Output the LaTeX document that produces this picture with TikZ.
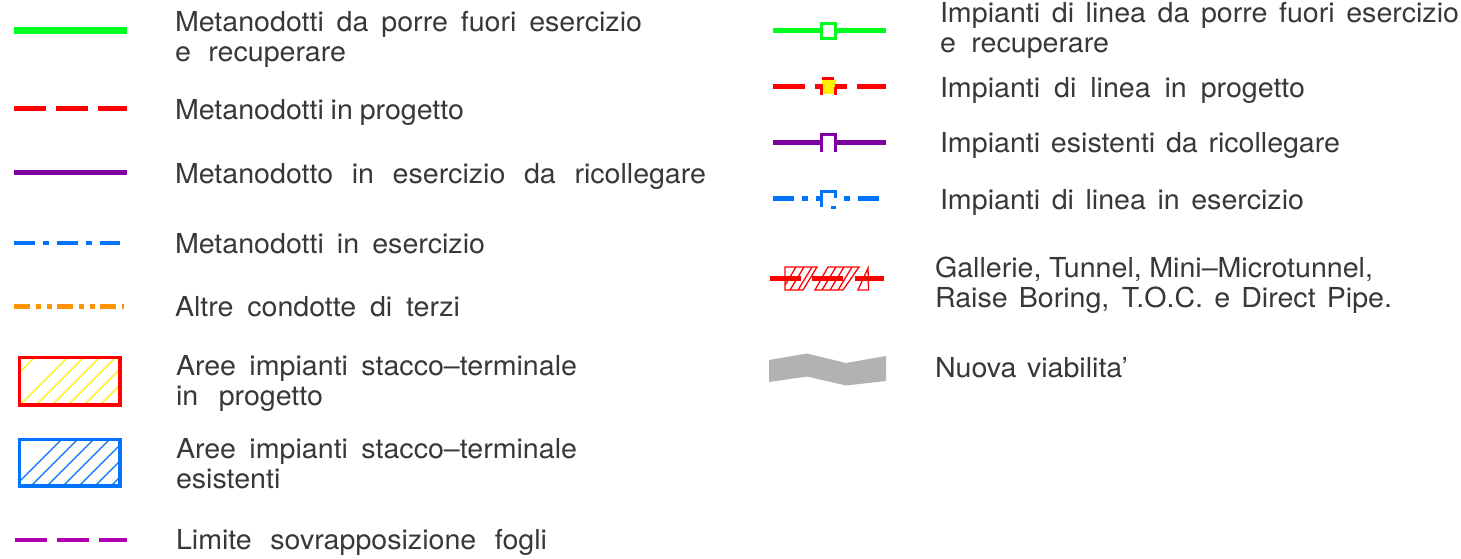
\documentclass[tikz,border=0pt]{standalone}
\usepackage{fontspec}
\setmainfont[FakeStretch=1.04]{TeX Gyre Heros}
\definecolor{lgreen}{HTML}{00FF1E}
\definecolor{lred}{HTML}{FF0000}
\definecolor{lpurple}{HTML}{7F00A0}
\definecolor{lblue}{HTML}{0073FF}
\definecolor{lorange}{HTML}{FF9400}
\definecolor{lmag}{HTML}{B000B0}
\definecolor{lyellow}{HTML}{FFF000}
\definecolor{lgrey}{HTML}{B2B2B2}
\definecolor{ltext}{HTML}{383838}
\newcommand{\fitline}[2]{\hbox to #1pt{\spaceskip=6pt plus 1fil minus 1fil\relax #2}}
\tikzset{
  x=1pt,y=-1pt,
  lab/.style={anchor=base west,inner sep=0pt,outer sep=0pt,align=left,text=ltext,font=\fontsize{27.5}{30}\selectfont},
  dashA/.style={dash pattern=on 31.5pt off 10.5pt},
  dashB/.style={dash pattern=on 21pt off 8pt on 6pt off 8pt},
  dashC/.style={dash pattern=on 16pt off 6pt on 5pt off 6pt on 5pt off 5pt},
  hatchline/.style={line width=1.4pt}
}
\begin{document}
\begin{tikzpicture}
\useasboundingbox (0,0) rectangle (1461,559);
\fill[white] (0,0) rectangle (1461,559);
% left column symbols
\draw[lgreen,line width=7pt] (14,31) -- (127,31);
\draw[lred,line width=5.5pt,dashA] (14,108.5) -- (127,108.5);
\draw[lpurple,line width=5pt] (14,172) -- (127,172);
\draw[lblue,line width=4.5pt,dashB] (14,243) -- (120,243);
\draw[lorange,line width=5pt,dashC] (14,306) -- (124,306);
% yellow area
\begin{scope}
\clip (18,357) rectangle (120,405);
\foreach \k in {0,...,7} \draw[lyellow,hatchline] ({20+16*\k},405) -- ({70+16*\k},355);
\draw[lyellow,hatchline] (18,374) -- (36,356);
\end{scope}
\draw[lred,line width=3.2pt] (19.5,357.5) rectangle (120,405);
% blue area
\begin{scope}
\clip (18,439) rectangle (120,486);
\foreach \k in {-1,...,6} \draw[lblue,hatchline] ({30+16*\k},487) -- ({80+16*\k},437);
\end{scope}
\draw[lblue,line width=3.2pt] (19.5,439.5) rectangle (120,486);
\draw[lmag,line width=4.5pt,dashA] (15,540) -- (127,540);
% right column symbols
\draw[lgreen,line width=4.5pt] (773,30.7) -- (820,30.7) (836,30.7) -- (886,30.7);
\draw[lgreen,line width=3pt] (821.5,23.5) rectangle (835.5,38.5);
\fill[lyellow] (822,80) -- (836,80) -- (836,90) -- (833,94) -- (825,94) -- (822,90) -- cycle;
\draw[lred,line width=5pt] (773,87) -- (805,87) (815,87) -- (823,87) (835,87) -- (847,87) (857,87) -- (886,87);
\draw[lred,line width=3pt] (822,79) -- (834,79) (821.5,87) -- (821.5,95) (835.5,87) -- (835.5,95);
\draw[lpurple,line width=4.5pt] (773,142.7) -- (820,142.7) (836,142.7) -- (886,142.7);
\draw[lpurple,line width=3pt] (821.5,152) -- (821.5,135) -- (835.5,135) -- (835.5,152);
\draw[lblue,line width=4.5pt] (773,198.7) -- (794,198.7) (802,198.7) -- (808,198.7) (816,198.7) -- (820,198.7) (844,198.7) -- (850,198.7) (858,198.7) -- (879,198.7);
\draw[lblue,line width=3pt] (821.5,207) -- (821.5,191) -- (835.5,191) -- (835.5,198);
\draw[lblue,line width=3pt] (831,207.5) -- (836,207.5);
% tunnel
\begin{scope}[lred,line width=1.3pt]
\draw (785,267) -- (817,267) -- (803,290) -- (785,290) -- cycle;
\draw (828,267) -- (859,267) -- (843,290) -- (815,290) -- cycle;
\draw (868,268) -- (868.5,290) -- (858,290) -- cycle;
\begin{scope}
\clip (785,267) -- (817,267) -- (803,290) -- (785,290) -- cycle;
\foreach \k in {0,...,3} \draw ({796+8*\k},267) -- ({782+8*\k},290);
\end{scope}
\begin{scope}
\clip (828,267) -- (859,267) -- (843,290) -- (815,290) -- cycle;
\foreach \k in {0,...,3} \draw ({836+8*\k},267) -- ({822+8*\k},290);
\end{scope}
\end{scope}
\draw[lred,line width=4.5pt] (770,278.3) -- (801,278.3) (812,278.3) -- (843,278.3) (855,278.3) -- (884,278.3);
% new road
\fill[lgrey] (769,360) -- (807,353.5) -- (846,363) -- (886,356) -- (886,381) -- (846,385.5) -- (807,376.5) -- (769,382) -- cycle;
% labels
\node[lab] (t1) at (175,62) {\fitline{467}{Metanodotti da porre fuori esercizio}\\\fitline{171}{e recuperare}};
\node[lab] (t2) at (175,120) {\fitline{289}{Metanodotti in progetto}};
\node[lab] (t3) at (175,183) {\fitline{531}{Metanodotto in esercizio da ricollegare}};
\node[lab] (t4) at (175,253) {\fitline{310}{Metanodotti in esercizio}};
\node[lab] (t5) at (175,316) {\fitline{285}{Altre condotte di terzi}};
\node[lab] (t6) at (176,405) {\fitline{401}{Aree impianti stacco--terminale}\\\fitline{147}{in progetto}};
\node[lab] (t7) at (176,488) {\fitline{401}{Aree impianti stacco--terminale}\\\fitline{105}{esistenti}};
\node[lab] (t8) at (176,549) {\fitline{371}{Limite sovrapposizione fogli}};
\node[lab] (r1) at (940,53) {\fitline{519}{Impianti di linea da porre fuori esercizio}\\\fitline{169}{e recuperare}};
\node[lab] (r2) at (940,98) {\fitline{365}{Impianti di linea in progetto}};
\node[lab] (r3) at (940,153) {\fitline{400}{Impianti esistenti da ricollegare}};
\node[lab] (r4) at (940,209) {\fitline{364}{Impianti di linea in esercizio}};
\node[lab] (r5) at (935,307) {\fitline{438}{Gallerie, Tunnel, Mini--Microtunnel,}\\\fitline{457}{Raise Boring, T.O.C. e Direct Pipe.}};
\node[lab] (r6) at (935,377) {\fitline{193}{Nuova viabilita'}};
\end{tikzpicture}
\end{document}
